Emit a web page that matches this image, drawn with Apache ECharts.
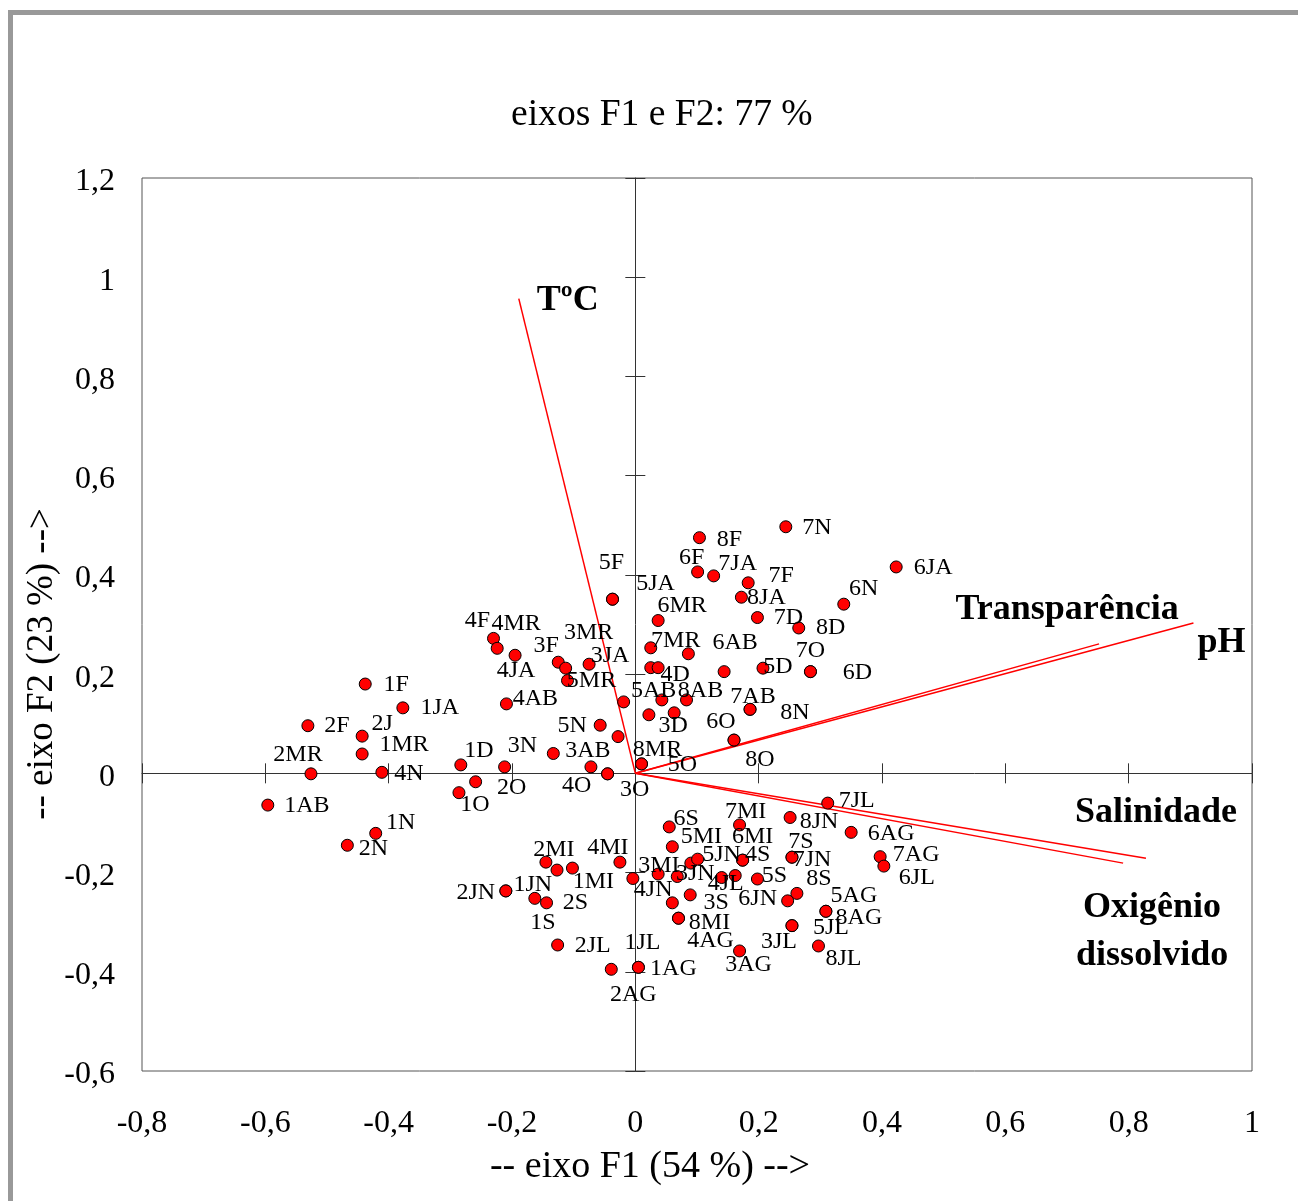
<!DOCTYPE html>
<html><head><meta charset="utf-8">
<script src="https://cdn.jsdelivr.net/npm/echarts@6/dist/echarts.min.js"></script>
<style>html,body{margin:0;padding:0;background:#fff}#chart{width:1298px;height:1201px}</style>
</head><body><div id="chart"></div>
<script>
// ---------- DATA ----------
const titleText = 'eixos F1 e F2: 77 %';
const xAxisName = '-- eixo F1 (54 %) -->';
const yAxisName = '-- eixo F2 (23 %) -->';

const obsNames = ['1F','1JA','2F','2J','1MR','2MR','4N','1AB','1N','2N','1D','','1O','2O',
 '4F','4MR','4JA','3F','3MR','5MR','3JA','4AB','5N','3N','3AB','4O','3O','5F','5JA','5AB','',
 '7N','8F','6F','7JA','7F','8JA','6N','6JA','6MR','7D','8D','7MR','','','4D','6AB','5D','7O','6D',
 '','8AB','7AB','8N','','3D','6O','8O','8MR','5O',
 '6S','7MI','8JN','7JL','6AG','5MI','2MI','','1MI','4MI','3MI','4JN','3JN','','5JN','4S','6MI',
 '7JN','7S','7AG','6JL','4JL','','5S','2JN','1JN','1S','2S','','3S','6JN','8S','8MI','4AG',
 '5AG','8AG','5JL','3JL','8JL','3AG','2JL','1AG','1JL','2AG'];
const obsF1 = [-0.438,-0.377,-0.531,-0.443,-0.443,-0.526,-0.411,-0.596,-0.421,-0.467,-0.283,-0.259,-0.286,-0.212,
 -0.230,-0.224,-0.195,-0.125,-0.113,-0.110,-0.075,-0.209,-0.057,-0.133,-0.072,-0.045,-0.045,-0.037,-0.037,-0.019,-0.028,
 0.244,0.104,0.101,0.127,0.183,0.172,0.338,0.423,0.037,0.198,0.265,0.025,0.086,0.025,0.037,0.144,0.207,0.284,0.284,
 0.043,0.083,0.186,0.186,0.022,0.063,0.160,0.160,0.010,0.010,
 0.055,0.169,0.251,0.312,0.350,0.060,-0.145,-0.127,-0.102,-0.025,-0.004,0.037,0.068,0.090,0.101,0.174,0.174,
 0.254,0.254,0.397,0.403,0.140,0.162,0.198,-0.210,-0.210,-0.163,-0.144,0.060,0.089,0.247,0.262,0.070,0.070,
 0.309,0.309,0.254,0.254,0.297,0.169,-0.126,0.005,0.005,-0.039];
const obsF2 = [0.180,0.132,0.096,0.075,0.039,-0.001,0.002,-0.064,-0.121,-0.145,0.017,-0.017,-0.039,0.013,
 0.272,0.252,0.238,0.224,0.212,0.187,0.220,0.140,0.097,0.040,0.013,-0.001,-0.001,0.351,0.351,0.144,0.074,
 0.497,0.475,0.406,0.398,0.384,0.355,0.341,0.416,0.308,0.314,0.293,0.253,0.241,0.213,0.213,0.205,0.212,0.205,0.205,
 0.148,0.148,0.129,0.129,0.118,0.122,0.067,0.067,0.019,0.019,
 -0.108,-0.104,-0.089,-0.060,-0.119,-0.148,-0.179,-0.195,-0.191,-0.179,-0.212,-0.203,-0.208,-0.181,-0.173,-0.175,-0.175,
 -0.169,-0.169,-0.168,-0.187,-0.210,-0.206,-0.213,-0.237,-0.237,-0.252,-0.261,-0.261,-0.245,-0.257,-0.242,-0.292,-0.292,
 -0.278,-0.278,-0.307,-0.307,-0.348,-0.358,-0.346,-0.391,-0.391,-0.395];

const varNames = ['TºC','Transparência','pH','Salinidade','Oxigênio\ndissolvido'];
const varF1 = [-0.189,0.752,0.905,0.828,0.791];
const varF2 = [0.957,0.261,0.303,-0.171,-0.181];

// ---------- LABEL PLACEMENT (style, px offsets of label centre from point) ----------
const obsLabelOffset = [[31,1],[37,0],[29,0],[20,-12],[42,-9],[-13,-19],[27,1],[39,1],[25,-11],[26,3],[18,-14],[0,0],[16,12],[7,21],
 [-16,-18],[19,-25],[1,15],[-12,-17],[23,-35],[24,0],[21,-8],[29,-5],[-28,0],[-31,-8],[-3,-16],[-31,12],[27,16],[-1,-36],[43,-15],[30,-11],[0,0],
 [31,1],[30,2],[-6,-14],[24,-12],[33,-7],[25,0],[20,-15],[37,1],[24,-15],[31,0],[32,0],[25,-7],[0,0],[0,0],[17,7],[11,-29],[15,-1],[0,-21],[47,1],
 [0,0],[14,-9],[3,-13],[45,3],[0,0],[-1,13],[-13,-18],[26,20],[16,-14],[41,1],
 [17,-8],[6,-13],[29,4],[29,-2],[40,1],[29,-10],[8,-12],[0,0],[21,14],[-12,-14],[26,-13],[-5,16],[18,-3],[0,0],[24,-4],[15,-5],[10,-23],
 [20,3],[9,-15],[36,-2],[33,12],[4,6],[0,0],[17,-3],[-30,2],[27,-6],[8,24],[29,0],[0,0],[26,8],[-30,-2],[22,-15],[31,5],[32,23],
 [28,-16],[33,6],[39,2],[-13,16],[25,13],[9,14],[35,1],[35,1],[4,-25],[22,25]];
const varLabelOffset = [[49,2],[-32,-34],[28,20],[10,-45],[29,69]];

// ---------- CHART ----------
const FONT = 'Liberation Serif';
const fmt = v => String(Math.round(v * 10) / 10).replace('.', ',');
const chart = echarts.init(document.getElementById('chart'), null, {renderer: 'canvas'});

const obsData = obsNames.map((n, i) => ({
  name: n,
  value: [obsF1[i], obsF2[i]],
  label: {show: n !== '', offset: obsLabelOffset[i]}
}));
const varLabelData = varNames.map((n, i) => ({
  name: n, value: [varF1[i], varF2[i]], label: {offset: varLabelOffset[i]}
}));
const vectorSeries = varNames.map((n, i) => ({
  type: 'line', name: n, xAxisIndex: 0, yAxisIndex: 0,
  data: [[0, 0], [varF1[i], varF2[i]]],
  showSymbol: false, symbol: 'none', silent: true, z: 2,
  lineStyle: {color: '#ff0000', width: 1.5}
}));

const baseX = {type: 'value', min: -0.8, max: 1, interval: 0.2, splitLine: {show: false}};
const baseY = {type: 'value', min: -0.6, max: 1.2, interval: 0.2, splitLine: {show: false}};
const zeroLine = {color: '#333', width: 1};

chart.setOption({
  animation: false,
  backgroundColor: '#fff',
  title: {
    text: titleText, left: 511, top: 96, padding: 0,
    textStyle: {fontFamily: FONT, fontSize: 37.6, fontWeight: 'normal', color: '#000'}
  },
  grid: {left: 142, right: 46, top: 178, bottom: 130, show: true, borderColor: '#555', borderWidth: 1, backgroundColor: 'transparent'},
  xAxis: [
    Object.assign({}, baseX, {position: 'bottom', axisLine: {show: false, onZero: false}, axisTick: {show: false},
      axisLabel: {formatter: fmt, fontFamily: FONT, fontSize: 32, color: '#000', margin: 37}}),
    Object.assign({}, baseX, {position: 'top', axisLine: {show: true, onZero: true, onZeroAxisIndex: 0, lineStyle: zeroLine},
      axisTick: {show: true, inside: false, length: 10, lineStyle: zeroLine}, axisLabel: {show: false}}),
    Object.assign({}, baseX, {position: 'top', axisLine: {show: false, onZero: true, onZeroAxisIndex: 0},
      axisTick: {show: true, inside: true, length: 10, lineStyle: zeroLine}, axisLabel: {show: false}})
  ],
  yAxis: [
    Object.assign({}, baseY, {position: 'left', axisLine: {show: false, onZero: false}, axisTick: {show: false},
      axisLabel: {formatter: fmt, fontFamily: FONT, fontSize: 32, color: '#000', margin: 27, verticalAlign: 'top', lineHeight: 8}}),
    Object.assign({}, baseY, {position: 'right', axisLine: {show: true, onZero: true, onZeroAxisIndex: 0, lineStyle: zeroLine},
      axisTick: {show: true, inside: false, length: 10, lineStyle: zeroLine}, axisLabel: {show: false}}),
    Object.assign({}, baseY, {position: 'right', axisLine: {show: false, onZero: true, onZeroAxisIndex: 0},
      axisTick: {show: true, inside: true, length: 10, lineStyle: zeroLine}, axisLabel: {show: false}})
  ],
  graphic: [
    {type: 'rect', left: 8, top: 10, shape: {width: 1290, height: 5}, style: {fill: '#999'}, silent: true},
    {type: 'rect', left: 8, top: 10, shape: {width: 5, height: 1191}, style: {fill: '#999'}, silent: true},
    {type: 'text', x: 650, y: 1167, style: {text: xAxisName, font: '38px "Liberation Serif"', fill: '#000', align: 'center', verticalAlign: 'middle'}},
    {type: 'text', x: 42, y: 664, rotation: Math.PI / 2, style: {text: yAxisName, font: '37px "Liberation Serif"', fill: '#000', align: 'center', verticalAlign: 'middle'}}
  ],
  series: vectorSeries.concat([
    {
      type: 'scatter', name: 'obs', xAxisIndex: 0, yAxisIndex: 0, z: 3,
      symbol: 'circle', symbolSize: 12,
      itemStyle: {color: '#ff0000', borderColor: '#000', borderWidth: 1, opacity: 1},
      label: {show: true, position: 'inside', formatter: p => p.name, fontFamily: FONT, fontSize: 24, color: '#000', textBorderWidth: 0},
      emphasis: {disabled: true},
      data: obsData
    },
    {
      type: 'scatter', name: 'vars', xAxisIndex: 0, yAxisIndex: 0, z: 4,
      symbol: 'circle', symbolSize: 1, itemStyle: {color: '#ffffff', opacity: 0},
      label: {show: true, position: 'inside', formatter: p => p.name, fontFamily: FONT, fontSize: 36, fontWeight: 'bold',
        color: '#000', opacity: 1, textBorderWidth: 0, lineHeight: 48, align: 'center'},
      emphasis: {disabled: true},
      data: varLabelData
    }
  ])
});
</script></body></html>
